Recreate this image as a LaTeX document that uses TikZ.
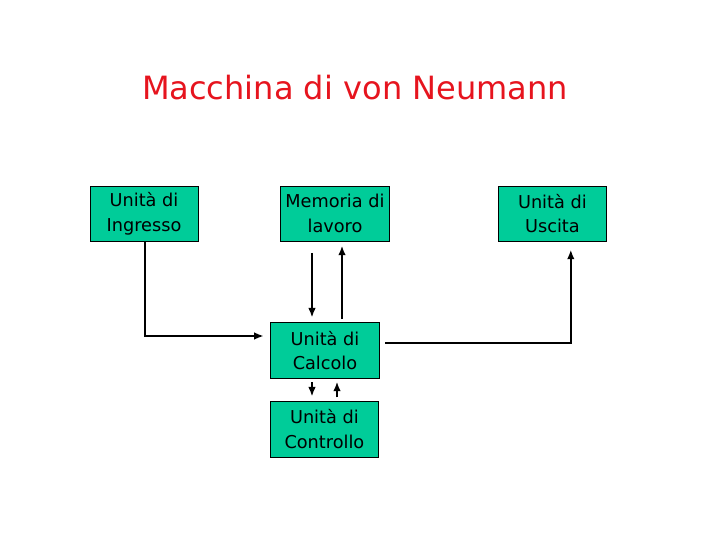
\documentclass[tikz,border=0pt]{standalone}
\usepackage{fontspec}
\setmainfont{DejaVu Sans}
\usetikzlibrary{arrows.meta}
\definecolor{boxgreen}{RGB}{0,204,153}
\definecolor{titlered}{RGB}{230,20,30}
\begin{document}
\begin{tikzpicture}[
  every node/.style={font=\fontsize{12.6}{17.5}\selectfont},
  unit/.style={draw=black, semithick, fill=boxgreen, align=center, inner sep=0pt,
    minimum width=2.74cm, minimum height=1.38cm},
  link/.style={line width=1.4pt, -{Latex[length=2.4mm,width=1.9mm]}}]
  \useasboundingbox (0,0) rectangle (18,13.5);

  \node[text=titlered, font=\fontsize{22.8}{27}\selectfont] (title) at (8.875,11.3) {Macchina di von Neumann};

  \node[unit, minimum width=2.7cm] (ingresso) at (3.6,8.16) {Unità di\\Ingresso};
  \node[unit] (memoria) at (8.375,8.16) {Memoria di\\lavoro};
  \node[unit, minimum width=2.72cm] (uscita) at (13.81,8.16) {Unità di\\Uscita};
  \node[unit] (calcolo) at (8.125,4.74) {Unità di\\Calcolo};
  \node[unit, minimum width=2.72cm, minimum height=1.4cm] (controllo) at (8.11,2.775) {Unità di\\Controllo};

  % memoria <-> calcolo
  \draw[link, shorten <=0.28cm, shorten >=0.12cm] ([xshift=-0.325cm]calcolo.north |- memoria.south) -- ([xshift=-0.325cm]calcolo.north);
  \draw[link, shorten <=0.08cm, shorten >=0.1cm] ([xshift=0.425cm]calcolo.north) -- ([xshift=0.425cm]calcolo.north |- memoria.south);

  % calcolo <-> controllo
  \draw[link, shorten <=0.1cm, shorten >=0.1cm] ([xshift=-0.325cm]calcolo.south) -- ([xshift=-0.325cm]calcolo.south |- controllo.north);
  \draw[link, shorten <=0.08cm, shorten >=0.08cm] ([xshift=0.3cm]calcolo.south |- controllo.north) -- ([xshift=0.3cm]calcolo.south);

  % ingresso -> calcolo, calcolo -> uscita
  \draw[link, shorten >=0.15cm] ([xshift=0.025cm]ingresso.south) |- ([yshift=0.36cm]calcolo.west);
  \draw[link, shorten <=0.12cm, shorten >=0.2cm] ([yshift=0.18cm]calcolo.east) -| ([xshift=0.46cm]uscita.south);
\end{tikzpicture}
\end{document}
